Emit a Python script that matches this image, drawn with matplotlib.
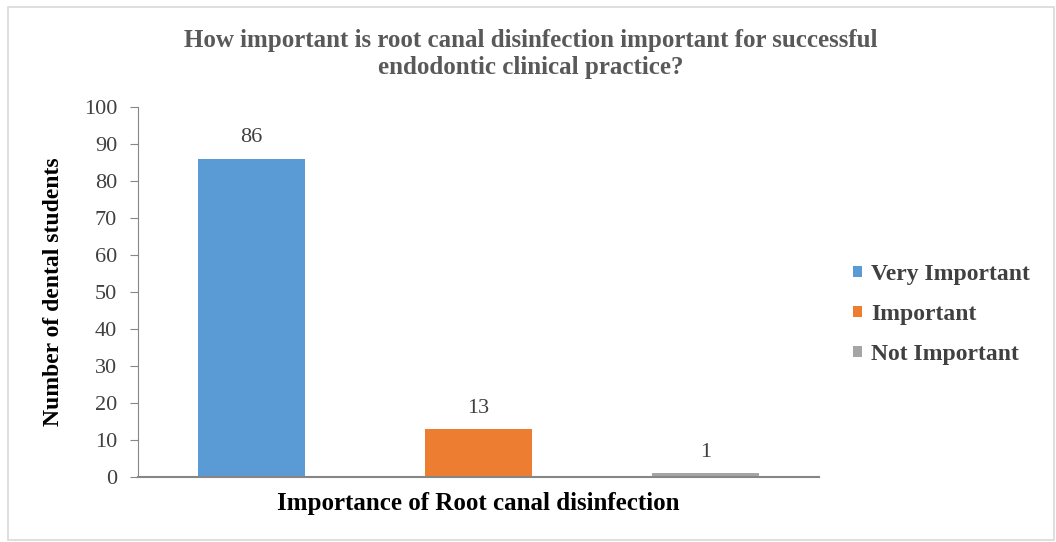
import matplotlib.pyplot as plt
from matplotlib.patches import Rectangle

# Survey responses
categories = ['Very Important', 'Important', 'Not Important']
counts = [86, 13, 1]
colors = ['#5B9BD5', '#ED7D31', '#A5A5A5']
yticks = [0, 10, 20, 30, 40, 50, 60, 70, 80, 90, 100]

plt.rcParams['font.family'] = ['Liberation Serif', 'DejaVu Serif']

fig = plt.figure(figsize=(10.56, 5.42), dpi=100)
ax = fig.add_axes([0.1307, 0.12, 0.645, 0.683])

# light frame around the whole chart
fig.patches.append(Rectangle((0.008, 0.004), 0.99, 0.983, transform=fig.transFigure,
                             fill=False, edgecolor='#D9D9D9', linewidth=1.2))

x = range(len(categories))
bars = ax.bar(x, counts, width=0.47, color=colors, label=categories)

for i, v in enumerate(counts):
    ax.annotate(str(v), (i, v), textcoords='offset points', xytext=(0, 8),
                ha='center', va='bottom', fontsize=16, color='#404040')

ax.set_xlim(-0.5, 2.5)
ax.set_ylim(0, 100)
ax.set_yticks(yticks)
ax.set_xticks([])
ax.tick_params(axis='y', labelsize=16, labelcolor='#404040', color='#868686',
               direction='out', length=6, pad=9)
for s in ['top', 'right']:
    ax.spines[s].set_visible(False)
ax.spines['left'].set_color('#868686')
ax.spines['bottom'].set_color('#868686')
ax.spines['bottom'].set_linewidth(1.5)

ax.set_ylabel('Number of dental students', fontsize=17, fontweight='bold', labelpad=14)
ax.set_xlabel('Importance of Root canal disinfection', fontsize=18, fontweight='bold', labelpad=11)

fig.text(0.503, 0.9, 'How important is root canal disinfection important for successful\n'
         'endodontic clinical practice?', ha='center', va='center', fontsize=18,
         fontweight='bold', color='#595959', linespacing=1.25)

ax.legend(bars, categories, loc='center left', bbox_to_anchor=(0.808, 0.42),
          bbox_transform=fig.transFigure, frameon=False, handlelength=0.35,
          handleheight=0.35, handletextpad=0.4, labelspacing=0.8,
          borderpad=0, borderaxespad=0,
          prop={'size': 17, 'weight': 'bold'}, labelcolor='#404040')

fig.savefig('out.png', dpi=100)
